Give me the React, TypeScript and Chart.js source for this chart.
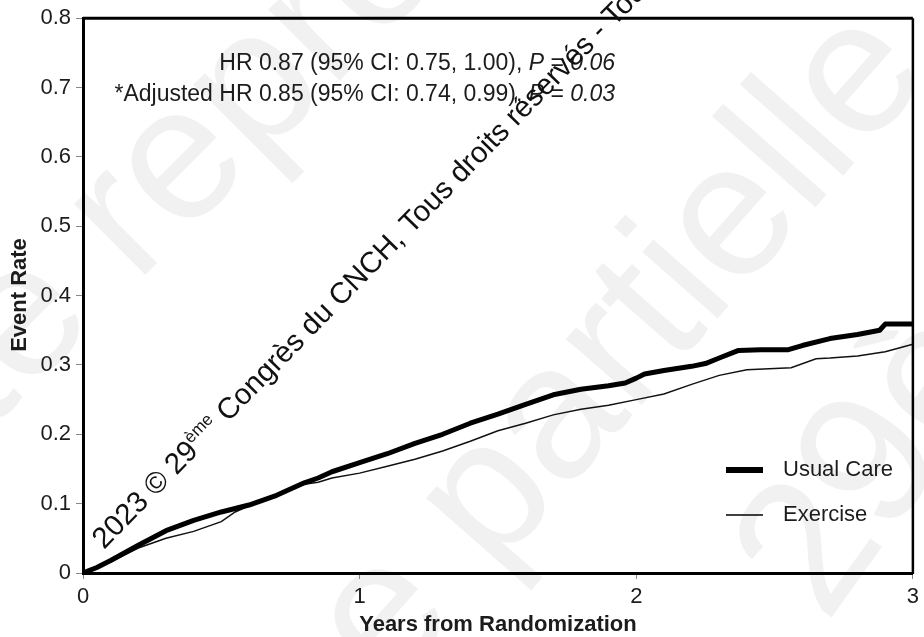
import React, { useEffect, useRef } from 'react';
import { Chart, registerables } from 'chart.js';

Chart.register(...registerables);

// ---- Data ----
const seriesNames = ['Usual Care', 'Exercise'];

const usualCareYears = [0, 0.05, 0.1, 0.2, 0.3, 0.4, 0.5, 0.6, 0.7, 0.8, 0.85, 0.9, 1.0, 1.1, 1.2, 1.3, 1.4, 1.5, 1.6, 1.7, 1.8, 1.9, 1.96, 2.0, 2.03, 2.1, 2.2, 2.25, 2.3, 2.37, 2.45, 2.55, 2.6, 2.7, 2.8, 2.88, 2.9, 3.0];
const usualCareRate = [0, 0.008, 0.018, 0.040, 0.061, 0.076, 0.088, 0.098, 0.112, 0.130, 0.137, 0.146, 0.159, 0.172, 0.187, 0.200, 0.216, 0.229, 0.243, 0.257, 0.265, 0.270, 0.274, 0.281, 0.287, 0.292, 0.298, 0.302, 0.310, 0.321, 0.322, 0.322, 0.328, 0.338, 0.344, 0.350, 0.359, 0.359];

const exerciseYears = [0, 0.1, 0.2, 0.3, 0.4, 0.5, 0.55, 0.6, 0.7, 0.8, 0.85, 0.9, 1.0, 1.1, 1.2, 1.3, 1.4, 1.5, 1.6, 1.7, 1.8, 1.9, 2.0, 2.1, 2.2, 2.3, 2.4, 2.5, 2.56, 2.65, 2.7, 2.8, 2.9, 3.0];
const exerciseRate = [0, 0.016, 0.036, 0.050, 0.060, 0.074, 0.088, 0.097, 0.111, 0.128, 0.131, 0.137, 0.144, 0.154, 0.164, 0.176, 0.190, 0.205, 0.216, 0.228, 0.236, 0.242, 0.250, 0.258, 0.272, 0.285, 0.293, 0.295, 0.296, 0.309, 0.310, 0.313, 0.319, 0.330];

const xTicks = [0, 1, 2, 3];
const xTickLabels = ['0', '1', '2', '3'];
const yTicks = [0, 0.1, 0.2, 0.3, 0.4, 0.5, 0.6, 0.7, 0.8];
const yTickLabels = ['0', '0.1', '0.2', '0.3', '0.4', '0.5', '0.6', '0.7', '0.8'];

const xAxisTitle = 'Years from Randomization';
const yAxisTitle = 'Event Rate';

// [text, italic]
const hrLine1: [string, boolean][] = [['HR 0.87 (95% CI: 0.75, 1.00), ', false], ['P', true], [' = ', false], ['0.06', true]];
const hrLine2: [string, boolean][] = [['*Adjusted HR 0.85 (95% CI: 0.74, 0.99), ', false], ['P', true], [' = ', false], ['0.03', true]];

const copyrightMain1 = '2023 © 29';
const copyrightSup = 'ème';
const copyrightMain2 = ' Congrès du CNCH, Tous droits réservés - Toute reproduction';

const faintWords = ['Toute reproduction', 'même partielle', '29ème'];

const FONT = '"Liberation Sans", Arial, Helvetica, sans-serif';
const TEXT = '#1c1c1c';

const extrasPlugin = {
  id: 'extras',
  beforeDraw(chart: any) {
    const ctx = chart.ctx as CanvasRenderingContext2D;
    ctx.save();
    ctx.fillStyle = '#f1f1f1';
    ctx.font = `190px ${FONT}`;
    ctx.textBaseline = 'alphabetic';
    ctx.textAlign = 'left';
    const pos: [number, number, number][] = [
      [-230, 650, -Math.PI / 4],
      [110, 1010, -0.85],
      [826, 625, -0.95],
    ];
    faintWords.forEach((t, i) => {
      const [x, y, a] = pos[i];
      ctx.save();
      ctx.translate(x, y);
      ctx.rotate(a);
      ctx.fillText(t, 0, 0);
      ctx.restore();
    });
    ctx.restore();
  },
  afterDraw(chart: any) {
    const ctx = chart.ctx as CanvasRenderingContext2D;
    const { left, right, top, bottom } = chart.chartArea;
    ctx.save();

    // top and right frame
    ctx.strokeStyle = '#000';
    ctx.lineWidth = 3;
    ctx.beginPath();
    ctx.moveTo(left, top);
    ctx.lineTo(right, top);
    ctx.stroke();
    ctx.lineWidth = 2.5;
    ctx.beginPath();
    ctx.moveTo(right, top);
    ctx.lineTo(right, bottom + 1);
    ctx.stroke();

    // axis titles
    ctx.fillStyle = TEXT;
    ctx.font = `bold 22px ${FONT}`;
    ctx.textAlign = 'center';
    ctx.textBaseline = 'middle';
    ctx.fillText(xAxisTitle, (left + right) / 2, 625);
    ctx.save();
    ctx.translate(20, 295);
    ctx.rotate(-Math.PI / 2);
    ctx.fillText(yAxisTitle, 0, 0);
    ctx.restore();

    // HR annotation (right aligned)
    const drawSegs = (segs: [string, boolean][], xRight: number, y: number) => {
      ctx.textAlign = 'left';
      ctx.textBaseline = 'middle';
      const widths = segs.map(([t, it]) => {
        ctx.font = `${it ? 'italic ' : ''}23px ${FONT}`;
        return ctx.measureText(t).width;
      });
      let x = xRight - widths.reduce((a, b) => a + b, 0);
      segs.forEach(([t, it], i) => {
        ctx.font = `${it ? 'italic ' : ''}23px ${FONT}`;
        ctx.fillText(t, x, y);
        x += widths[i];
      });
    };
    drawSegs(hrLine1, 615, 64);
    drawSegs(hrLine2, 615, 95);

    // legend
    ctx.strokeStyle = '#000';
    ctx.lineWidth = 6;
    ctx.beginPath();
    ctx.moveTo(726, 470);
    ctx.lineTo(763, 470);
    ctx.stroke();
    ctx.lineWidth = 1.5;
    ctx.beginPath();
    ctx.moveTo(726, 515);
    ctx.lineTo(763, 515);
    ctx.stroke();
    ctx.font = `22px ${FONT}`;
    ctx.textAlign = 'left';
    ctx.textBaseline = 'middle';
    ctx.fillText(seriesNames[0], 783, 470);
    ctx.fillText(seriesNames[1], 783, 515);

    // diagonal copyright overlay
    ctx.save();
    ctx.translate(104, 550);
    ctx.rotate((-45.7 * Math.PI) / 180);
    ctx.fillStyle = '#111';
    ctx.textBaseline = 'alphabetic';
    ctx.font = `29.5px ${FONT}`;
    ctx.fillText(copyrightMain1, 0, 0);
    let cx = ctx.measureText(copyrightMain1).width;
    ctx.font = `17px ${FONT}`;
    ctx.fillText(copyrightSup, cx, -12);
    cx += ctx.measureText(copyrightSup).width;
    ctx.font = `29.5px ${FONT}`;
    ctx.fillText(copyrightMain2, cx, 0);
    ctx.restore();

    ctx.restore();
  },
};

export default function App() {
  const ref = useRef<HTMLCanvasElement | null>(null);

  useEffect(() => {
    if (!ref.current) return;
    const chart = new Chart(ref.current, {
      type: 'line',
      data: {
        datasets: [
          {
            label: seriesNames[0],
            data: usualCareYears.map((x, i) => ({ x, y: usualCareRate[i] })),
            borderColor: '#000',
            borderWidth: 5,
            pointRadius: 0,
            tension: 0,
            borderJoinStyle: 'round',
          },
          {
            label: seriesNames[1],
            data: exerciseYears.map((x, i) => ({ x, y: exerciseRate[i] })),
            borderColor: '#111',
            borderWidth: 1.5,
            pointRadius: 0,
            tension: 0,
          },
        ],
      },
      options: {
        animation: false,
        responsive: false,
        maintainAspectRatio: false,
        layout: { padding: { top: 16, right: 6, left: 0, bottom: 0 } },
        plugins: { legend: { display: false }, tooltip: { enabled: false } },
        scales: {
          x: {
            type: 'linear',
            min: 0,
            max: 3,
            afterBuildTicks: (s: any) => { s.ticks = xTicks.map((v) => ({ value: v })); },
            afterFit: (s: any) => { s.height = 64; },
            ticks: {
              color: TEXT,
              font: { family: FONT, size: 22 },
              padding: 5,
              maxRotation: 0,
              callback: (v: any) => xTickLabels[xTicks.indexOf(Number(v))] ?? '',
            },
            grid: { drawOnChartArea: false, drawTicks: true, tickLength: 6, color: '#888', lineWidth: 1 },
            border: { display: true, color: '#000', width: 3 },
          },
          y: {
            type: 'linear',
            min: 0,
            max: 0.8,
            afterBuildTicks: (s: any) => { s.ticks = yTicks.map((v) => ({ value: v })); },
            afterFit: (s: any) => { s.width = 83; },
            ticks: {
              color: TEXT,
              font: { family: FONT, size: 22 },
              padding: 5,
              callback: (v: any) => {
                const i = yTicks.findIndex((t) => Math.abs(t - Number(v)) < 1e-6);
                return i >= 0 ? yTickLabels[i] : '';
              },
            },
            grid: { drawOnChartArea: false, drawTicks: true, tickLength: 7, color: '#888', lineWidth: 1 },
            border: { display: true, color: '#000', width: 3 },
          },
        },
      } as any,
      plugins: [extrasPlugin],
    });
    return () => chart.destroy();
  }, []);

  return (
    <div style={{ position: 'fixed', left: 0, top: 0, width: 924, height: 637, background: '#fff' }}>
      <canvas ref={ref} width={924} height={637} style={{ display: 'block', width: 924, height: 637 }} />
    </div>
  );
}
